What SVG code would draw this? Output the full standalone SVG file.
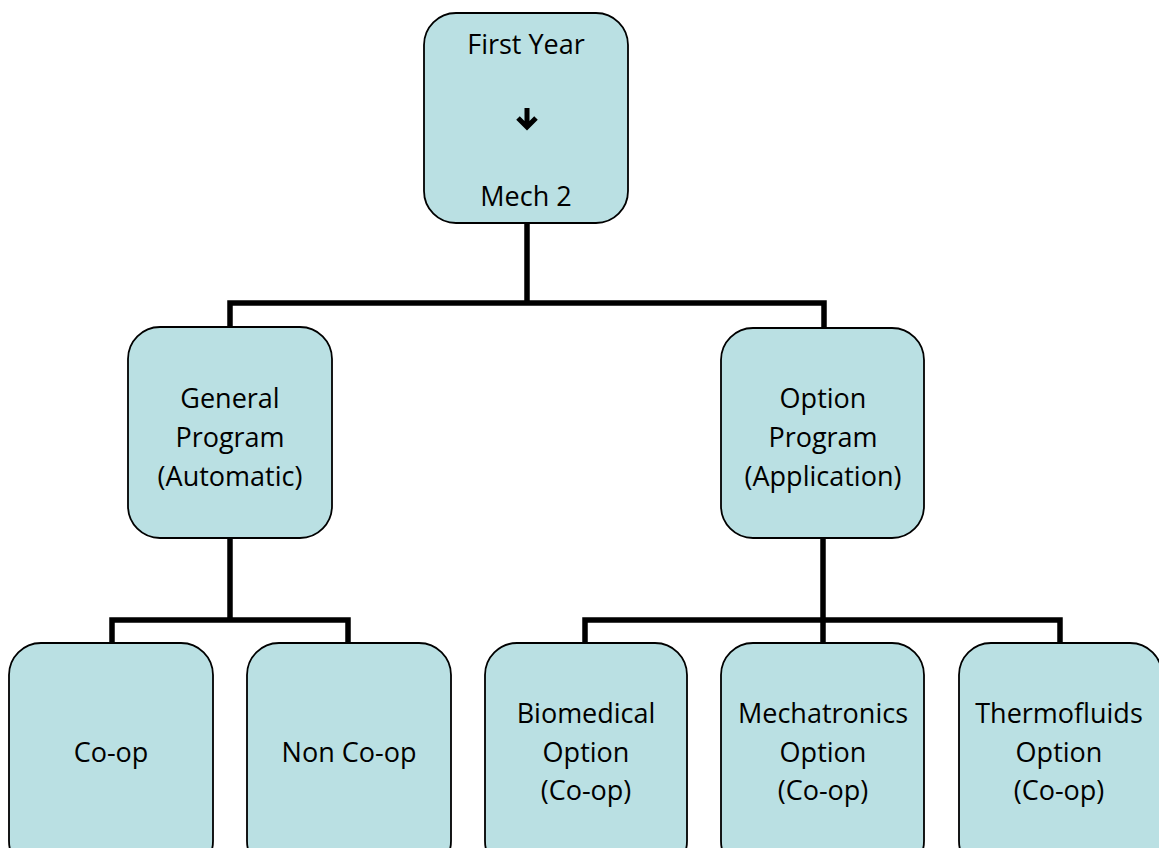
<svg xmlns="http://www.w3.org/2000/svg" width="1159" height="848" viewBox="0 0 1159 848">
<style>
.box{fill:#bae0e3;stroke:#000;stroke-width:1.8}
.lbl{font-family:"Open Sans","Liberation Sans",sans-serif;font-size:27px;fill:#000;text-anchor:middle}
.conn{fill:none;stroke:#000;stroke-width:5.5;stroke-linejoin:miter;stroke-linecap:butt}
</style>
<rect width="1159" height="848" fill="#fff"/>
<g id="connectors">
<path class="conn" d="M527,223 V303 M230,327 V303 H824 V328"/>
<path class="conn" d="M230,538 V620 M112,643 V620 H348 V643"/>
<path class="conn" d="M823,538 V643 M585,643 V620 H1060 V643"/>
</g>
<g id="first-year">
<rect class="box" x="424" y="13" width="204" height="210" rx="32"/>
<text class="lbl" x="526" y="54">First Year</text>
<path d="M527,108 V127 M518,118 L527,127 L536,118" fill="none" stroke="#000" stroke-width="5"/>
<text class="lbl" x="526" y="206">Mech 2</text>
</g>
<g id="general">
<rect class="box" x="128" y="327" width="204" height="211" rx="32"/>
<text class="lbl" x="230" y="408">General</text>
<text class="lbl" x="230" y="447">Program</text>
<text class="lbl" x="230" y="486">(Automatic)</text>
</g>
<g id="option">
<rect class="box" x="721" y="328" width="203" height="210" rx="32"/>
<text class="lbl" x="823" y="408">Option</text>
<text class="lbl" x="823" y="447">Program</text>
<text class="lbl" x="823" y="486">(Application)</text>
</g>
<g id="coop">
<rect class="box" x="9" y="643" width="204" height="230" rx="32"/>
<text class="lbl" x="111" y="762">Co-op</text>
</g>
<g id="noncoop">
<rect class="box" x="247" y="643" width="204" height="230" rx="32"/>
<text class="lbl" x="349" y="762">Non Co-op</text>
</g>
<g id="biomedical">
<rect class="box" x="485" y="643" width="202" height="230" rx="32"/>
<text class="lbl" x="586" y="723">Biomedical</text>
<text class="lbl" x="586" y="762">Option</text>
<text class="lbl" x="586" y="800">(Co-op)</text>
</g>
<g id="mechatronics">
<rect class="box" x="721" y="643" width="203" height="230" rx="32"/>
<text class="lbl" x="823" y="723">Mechatronics</text>
<text class="lbl" x="823" y="762">Option</text>
<text class="lbl" x="823" y="800">(Co-op)</text>
</g>
<g id="thermofluids">
<rect class="box" x="959" y="643" width="203" height="230" rx="32"/>
<text class="lbl" x="1059" y="723">Thermofluids</text>
<text class="lbl" x="1059" y="762">Option</text>
<text class="lbl" x="1059" y="800">(Co-op)</text>
</g>
</svg>
